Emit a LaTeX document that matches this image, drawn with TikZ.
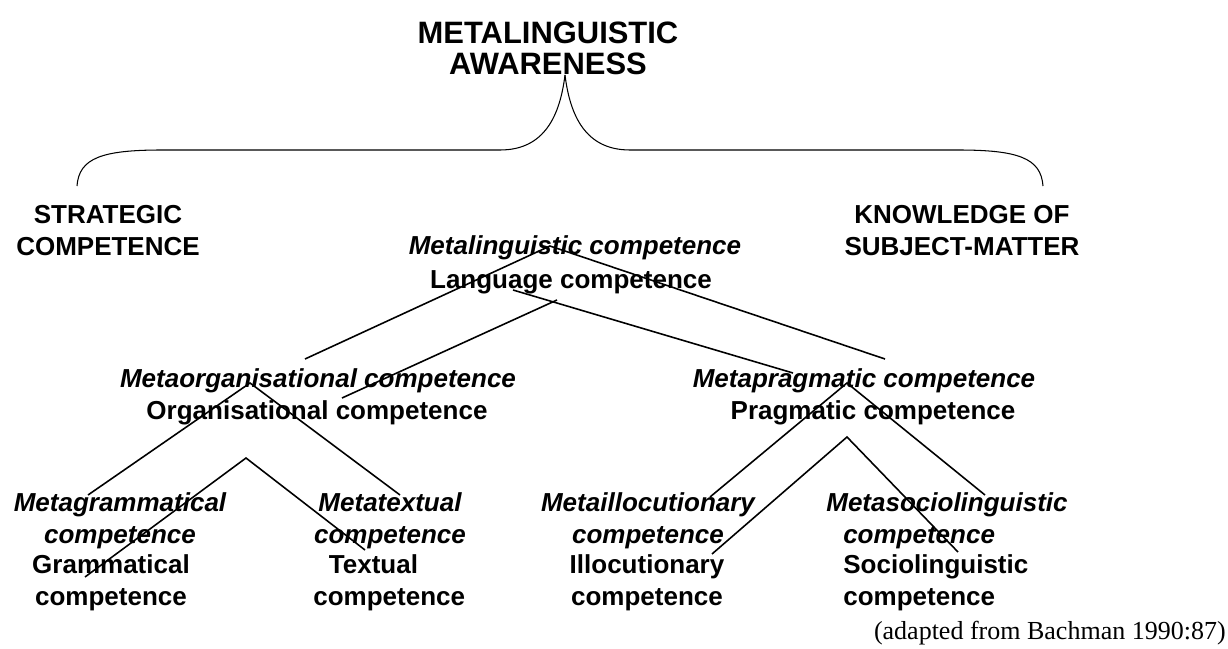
\documentclass[tikz,border=0pt]{standalone}
\usepackage{fontspec}
\setmainfont{Liberation Serif}
\setsansfont{Liberation Sans}
\usetikzlibrary{calc}

\begin{document}
\begin{tikzpicture}[
    x=0.02cm, y=-0.02cm,
    lbl/.style={align=center, inner sep=0pt, font=\sffamily\bfseries\fontsize{14.8}{18.2}\selectfont},
    meta/.style={align=center, inner sep=0pt, font=\sffamily\bfseries\itshape\fontsize{14.8}{18.2}\selectfont},
    leg/.style={line width=0.9pt},
]
    \useasboundingbox (0,0) rectangle (1228,649);

    \node[lbl, font=\sffamily\bfseries\fontsize{17.6}{17.6}\selectfont] (W1) at (548,48) {METALINGUISTIC\\AWARENESS};
    \node[lbl] (ST) at (108,231) {STRATEGIC\\COMPETENCE};
    \node[lbl] (KN) at (962,231) {KNOWLEDGE OF\\SUBJECT-MATTER};

    \node[meta] (L1) at (575,248) {Metalinguistic competence};
    \node[lbl] (L2) at (571,282) {Language competence};

    \node[meta] (O1) at (318,381) {Metaorganisational competence};
    \node[lbl] (O2) at (317,413) {Organisational competence};
    \node[meta] (P1) at (864,381) {Metapragmatic competence};
    \node[lbl] (P2) at (873,413) {Pragmatic competence};

    \node[meta] (G1) at (120,521) {Metagrammatical\\competence};
    \node[lbl] (G2) at (111,583) {Grammatical\\competence};
    \node[meta] (T1) at (390,521) {Metatextual\\competence};
    \node[lbl, align=left, anchor=west] (T2) at (313,583) {\hspace*{0.6em}Textual\\competence};
    \node[meta] (I1) at (648,521) {Metaillocutionary\\competence};
    \node[lbl] (I2) at (647,583) {Illocutionary\\competence};
    \node[meta, align=left, anchor=west] (SL1) at (826,521) {Metasociolinguistic\\\hspace*{0.65em}competence};
    \node[lbl, align=left, anchor=west] (SL2) at (843,583) {Sociolinguistic\\competence};

    \node[anchor=east, inner sep=0pt, font=\fontsize{14.8}{18}\selectfont] (R1) at (1226,633) {(adapted from Bachman 1990:87)};

    % brace under the title
    \coordinate (H1) at ($(W1)+(17,27)$);
    \coordinate (H2) at ($(ST)+(-31,-45)$);
    \coordinate (H3) at ($(KN)+(81,-45)$);
    \draw[line width=0.6pt] (H2) .. controls ($(H2)+(2,-28)$) and ($(H2)+(25,-36)$) .. ($(H2)+(85,-36)$)
        -- ($(H1)+(-65,75)$) .. controls ($(H1)+(-20,75)$) and ($(H1)+(-5,40)$) .. (H1);
    \draw[line width=0.6pt] (H1) .. controls ($(H1)+(5,40)$) and ($(H1)+(20,75)$) .. ($(H1)+(65,75)$)
        -- ($(H3)+(-85,-36)$) .. controls ($(H3)+(-25,-36)$) and ($(H3)+(-2,-28)$) .. (H3);

    % language level
    \draw[leg] ($(O1)+(-13,-22)$) -- ($(L1)+(-25,-2)$) -- ($(P1)+(21,-22)$);
    \draw[leg] ($(O2)+(25,-15)$) -- ($(L2)+(-14,18)$);
    \draw[leg] ($(L2)+(-58,8)$) -- ($(P1)+(-71,-8)$);

    % organisational
    \draw[leg] ($(G1)+(-32,-26)$) -- ($(O1)+(-68,2)$) -- ($(T1)+(10,-26)$);
    \draw[leg] ($(G2)+(-26,-6)$) -- ($(O2)+(-71,45)$) -- ($(T1)+(-25,29)$);

    % pragmatic
    \draw[leg] ($(I1)+(62,-24)$) -- ($(P1)+(-17,2)$) -- ($(SL1.west)+(159,-26)$);
    \draw[leg] ($(I1)+(64,33)$) -- ($(P2)+(-26,24)$) -- ($(SL1.west)+(132,31)$);

\end{tikzpicture}
\end{document}
